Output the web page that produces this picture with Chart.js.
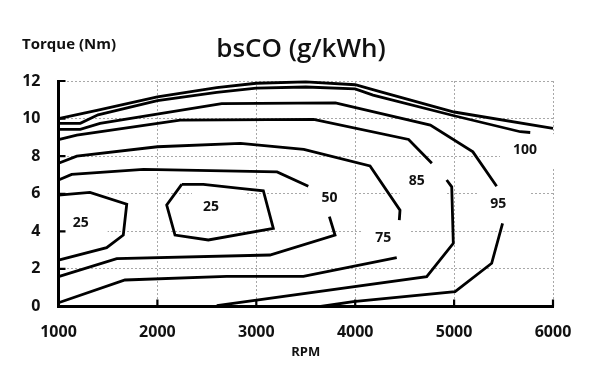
<!DOCTYPE html>
<html><head><meta charset="utf-8">
<script src="https://cdn.jsdelivr.net/npm/chart.js@4/dist/chart.umd.min.js"></script>
<style>html,body{margin:0;padding:0;background:#fff}#wrap{width:606px;height:366px;position:relative}</style>
</head><body><div id="wrap"><canvas id="c" width="606" height="366"></canvas></div>
<script>
// ---- data (RPM, Torque Nm) ----
const rpmTicks = [1000, 2000, 3000, 4000, 5000, 6000];
const torqueTicks = [0, 2, 4, 6, 8, 10, 12];

const contourTop = [[1000,10.0],[1400,10.45],[2000,11.15],[2600,11.65],[3000,11.88],[3500,11.95],[4000,11.8],[4250,11.43],[5000,10.35],[6000,9.48]];
const contour100 = [[1000,9.75],[1220,9.75],[1400,10.2],[2000,10.95],[2600,11.4],[3000,11.62],[3500,11.68],[4000,11.58],[4180,11.25],[5000,10.15],[5670,9.3],[5770,9.26]];
const contour95Upper = [[1000,9.43],[1220,9.43],[1420,9.74],[2650,10.8],[3800,10.84],[4760,9.65],[5190,8.23],[5430,6.4]];
const contour95Lower = [[5490,4.42],[5380,2.3],[5010,0.79],[3980,0.26],[3650,0]];
const contour85Upper = [[1000,8.88],[1185,9.12],[2230,9.92],[3580,9.96],[4540,8.89],[4775,7.62]];
const contour85Lower = [[4925,6.73],[4976,6.37],[4992,3.36],[4723,1.59],[2600,0.05]];
const contour75Upper = [[1000,7.62],[1185,8.0],[2000,8.5],[2840,8.68],[3480,8.36],[4150,7.48],[4453,5.13],[4446,4.6]];
const contour75Lower = [[4420,2.6],[3476,1.6],[2700,1.6],[1672,1.41],[1000,0.2]];
const contour50Upper = [[1000,6.73],[1133,7.03],[1860,7.3],[3210,7.16],[3526,6.4]];
const contour50Lower = [[3739,4.78],[3796,3.8],[3138,2.74],[1589,2.55],[1000,1.59]];
const contour25Left = [[1000,5.93],[1318,6.07],[1690,5.44],[1655,3.8],[1487,3.13],[1000,2.47]];
const contour25Inner = [[2246,6.5],[2464,6.5],[2835,6.29],[3071,6.16],[3172,4.16],[2515,3.54],[2178,3.8],[2094,5.4],[2246,6.5]];

const labelTexts = ['25', '25', '50', '75', '85', '95', '100'];
const labelRpm = [1224, 2542, 3739, 4284, 4622, 5447, 5717];
const labelTorque = [4.43, 5.31, 5.76, 3.63, 6.69, 5.45, 8.32];

// ---- styles ----
const labelBoxes = [[-20,-33,27,13],[-19,-17,34,18],[-21,-12,23,14],[-21,-16,27,14],[-17,-13,29,16],[-21,-14,32,14],[-25,-16,31,18]];
const FONT = "'Open Sans', 'DejaVu Sans', sans-serif";
const TEXT = '#111';

const paths = [contourTop, contour100, contour95Upper, contour95Lower, contour85Upper, contour85Lower,
  contour75Upper, contour75Lower, contour50Upper, contour50Lower, contour25Left, contour25Inner];

const datasets = paths.map(p => ({
  data: p.map(([x, y]) => ({x, y})),
  showLine: true, borderColor: '#000', borderWidth: 2.8, pointRadius: 0, tension: 0,
  fill: false, borderJoinStyle: 'miter', clip: false
}));

const decor = {
  id: 'decor',
  beforeDatasetsDraw(chart) {
    const {ctx, scales: {x, y}} = chart;
    ctx.save();
    ctx.fillStyle = '#fff';
    labelTexts.forEach((t, i) => {
      const px = x.getPixelForValue(labelRpm[i]), py = y.getPixelForValue(labelTorque[i]);
      const b = labelBoxes[i];
      ctx.fillRect(px + b[0], py + b[1], b[2] - b[0], b[3] - b[1]);
    });
    ctx.restore();
  },
  afterDatasetsDraw(chart) {
    const {ctx, chartArea: a, scales: {x, y}} = chart;
    ctx.save();
    // axis lines and inward tick marks
    ctx.strokeStyle = '#000'; ctx.lineWidth = 3; ctx.setLineDash([]);
    ctx.beginPath();
    ctx.moveTo(a.left, a.top - 1); ctx.lineTo(a.left, a.bottom); ctx.lineTo(a.right + 1, a.bottom);
    ctx.stroke();
    ctx.lineWidth = 2.2;
    ctx.beginPath();
    torqueTicks.forEach(v => { const py = y.getPixelForValue(v); ctx.moveTo(a.left, py); ctx.lineTo(a.left + 7, py); });
    rpmTicks.forEach(v => { const px = x.getPixelForValue(v); ctx.moveTo(px, a.bottom); ctx.lineTo(px, a.bottom - 7); });
    ctx.stroke();
    // contour labels
    ctx.fillStyle = TEXT; ctx.font = 'bold 14px ' + FONT;
    ctx.textAlign = 'center'; ctx.textBaseline = 'middle';
    labelTexts.forEach((t, i) => {
      ctx.fillText(t, x.getPixelForValue(labelRpm[i]), y.getPixelForValue(labelTorque[i]));
    });
    // title and y-axis caption
    ctx.font = '600 26px ' + FONT; ctx.textAlign = 'center'; ctx.textBaseline = 'alphabetic';
    ctx.fillText('bsCO (g/kWh)', 301, 57);
    ctx.font = 'bold 15px ' + FONT; ctx.textAlign = 'left';
    ctx.fillText('Torque (Nm)', 22, 49);
    ctx.restore();
  }
};

const gridStyle = {color: '#a8a8a8', lineWidth: 1, drawTicks: false};
const borderStyle = {display: false, dash: [2, 2]};

new Chart(document.getElementById('c'), {
  type: 'scatter',
  data: {datasets},
  options: {
    responsive: false, animation: false, events: [],
    layout: {padding: {left: 0, right: 53, top: 81, bottom: 6}},
    plugins: {legend: {display: false}, tooltip: {enabled: false}, title: {display: false}},
    scales: {
      x: {
        type: 'linear', min: 1000, max: 6000,
        afterBuildTicks: s => { s.ticks = rpmTicks.map(v => ({value: v})); },
        afterFit: s => { s.height = 53.5; },
        grid: gridStyle,
        border: borderStyle,
        ticks: {padding: 16, color: TEXT, font: {family: FONT, size: 16, weight: 'bold'}, maxRotation: 0,
          callback: v => String(v)},
        title: {display: true, text: 'RPM', color: TEXT, padding: 0, font: {family: FONT, size: 13, weight: 'bold'}}
      },
      y: {
        type: 'linear', min: 0, max: 12,
        afterBuildTicks: s => { s.ticks = torqueTicks.map(v => ({value: v})); },
        afterFit: s => { s.width = 58.5; },
        grid: gridStyle,
        border: borderStyle,
        ticks: {padding: 18, color: TEXT, font: {family: FONT, size: 16, weight: 'bold'}, callback: v => String(v)}
      }
    }
  },
  plugins: [decor]
});
</script>
</body></html>
